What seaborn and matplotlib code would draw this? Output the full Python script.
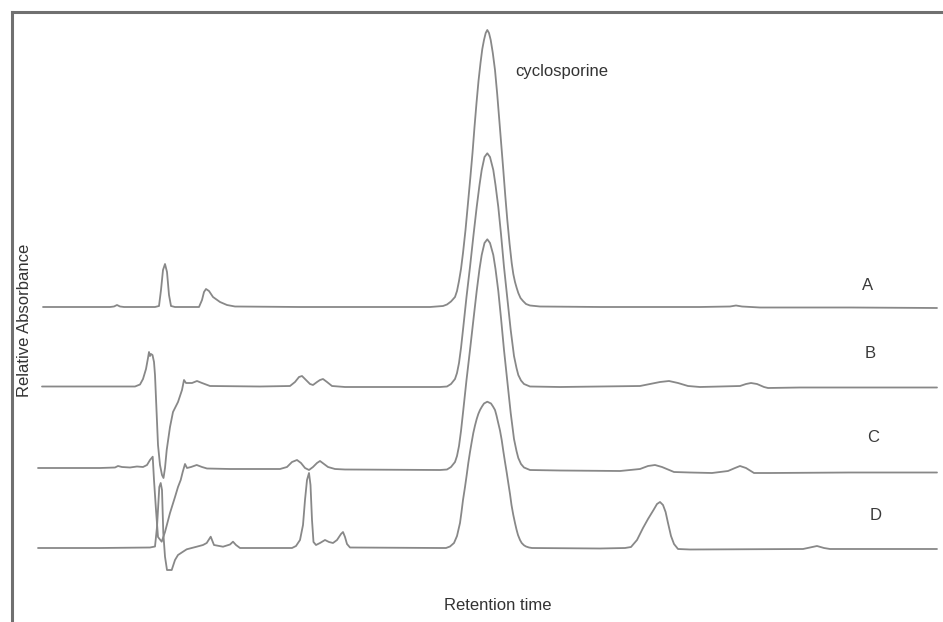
import matplotlib
matplotlib.use("Agg")
import matplotlib.pyplot as plt
import seaborn as sns
import pandas as pd

# =========================
# DATA (arbitrary units)
# each point: (retention time, absorbance above the trace baseline)
# =========================
TRACE_A = [
    (43, 0), (80, 0), (110, 0), (114, 0.5), (117, 2), (120, 0.5), (124, 0),
    (155, 0), (159, 1), (161, 17), (163, 37), (165, 43), (167, 35), (169, 12),
    (171, 1), (175, 0), (199, 0), (202, 7), (204, 15), (206, 18), (209, 16),
    (213, 10), (220, 5), (227, 2), (235, 0.5), (300, 0), (400, 0), (430, 0),
    (443, 1), (447, 2.5), (451, 5.5), (455, 10), (457, 16), (459, 26),
    (461, 38), (463, 54), (465.5, 77), (468, 104), (470.3, 129), (472.5, 154),
    (474.5, 180), (476.5, 204), (478.5, 226), (480.5, 244), (482.3, 258),
    (484, 267), (485.7, 274), (487.3, 277), (489, 274), (490.7, 267),
    (492.8, 254), (495, 237), (497.2, 213), (499.3, 187), (501.3, 162),
    (503.3, 137), (505.3, 111), (507.3, 87), (509.5, 64), (511.7, 44),
    (513.3, 33), (515, 25), (516.7, 19), (518.3, 14), (520.5, 9), (523, 6),
    (526, 3), (530, 1.5), (540, 0.5), (600, 0), (700, 0), (730, 0.5),
    (736, 1.5), (742, 0.5), (760, -0.5), (850, -0.5), (937, -1),
]

TRACE_B = [
    (42, 0.5), (100, 0.5), (135, 0.5), (140, 2.5), (143, 8), (146, 18),
    (148, 29), (149, 35), (150, 31), (151, 33), (152.5, 32), (154, 25),
    (155, 12), (156.5, -23), (158, -58), (160, -78), (162, -88), (163.5, -91),
    (165, -81), (166.7, -63), (170, -40), (173, -25), (178, -15), (182, -3),
    (184, 7), (186, 4), (192, 4), (197, 6), (202, 4), (210, 1), (260, 0.5),
    (290, 1), (295, 5), (299, 10), (302, 11), (306, 7), (310, 3), (313, 2),
    (317, 5), (320, 7), (323, 8), (327, 5), (332, 1), (345, 0), (440, 0),
    (447, 0.5), (451, 3), (455, 8), (457, 14), (459, 24), (461, 39),
    (463.3, 60), (466.5, 90), (470, 120), (473.5, 152), (476.7, 180),
    (479.5, 202), (481.7, 217), (484.5, 230), (487.3, 233.7), (490, 230),
    (493.3, 217), (495.5, 202), (498.3, 180), (501, 153), (504, 120),
    (507.5, 87), (510.7, 57), (514, 31), (516.5, 19), (518.3, 12), (521, 6.5),
    (524, 3), (530, 0.5), (560, 0), (640, 1), (650, 3), (660, 5), (669, 6),
    (678, 4), (688, 1), (700, 0), (740, 1), (746, 3), (751, 4), (757, 3),
    (764, 0), (768, -1), (800, -0.5), (937, -0.5),
]

TRACE_C = [
    (38, 1), (100, 1), (115, 1.5), (118, 3), (122, 2), (130, 1.5), (137, 2.5),
    (143, 2), (147, 4), (150, 9), (152.7, 12.3), (154, -11), (156, -41),
    (158, -68), (161.7, -72.7), (165, -63), (170, -44), (175, -28), (178, -18),
    (180.7, -11), (182.7, -3), (185, 5), (187, 1), (191, 2), (196.7, 4),
    (202, 2), (207, 0.5), (230, 0), (280, 0), (287, 2), (292, 7), (297, 9),
    (301, 6), (305, 1), (309, -1), (313, 2), (317, 6), (320, 8), (324, 5),
    (328, 2), (335, 0), (345, -0.5), (440, -1), (447, -0.5), (451, 2),
    (455, 7), (457, 13), (459, 23), (461, 38), (463.3, 59), (466.5, 89),
    (470, 119), (473.5, 150), (476.7, 178), (479.5, 200), (481.7, 214),
    (484.5, 226), (487.3, 229.7), (490, 226), (493.3, 214), (495.5, 200),
    (498.3, 178), (501, 151), (504, 119), (507.5, 86), (510.7, 56), (514, 30),
    (516.5, 18), (518.3, 11), (521, 5), (524, 1.5), (530, -1), (560, -1.5),
    (620, -2), (640, 0), (648, 3), (655, 4), (662, 2), (674, -3), (690, -3.5),
    (712, -4), (728, -2), (735, 1), (740, 3), (746, 1), (754, -4), (770, -4),
    (850, -3.5), (937, -3.5),
]

TRACE_D = [
    (38, 0), (100, 0), (150, 0.5), (155, 1.5), (157, 21), (159.3, 61),
    (160.7, 65), (162, 58), (163.3, 15), (165, -8.7), (167, -22),
    (171.7, -22), (175, -12), (178, -7), (183, -3.7), (186.7, -1.3),
    (196.7, 1.3), (203, 3), (206.7, 5), (210.7, 11.3), (214, 3), (223, 1.3),
    (230, 3.5), (233, 6.3), (236, 3), (240, 0), (260, 0), (292, 0), (296, 2),
    (300, 8), (303, 23), (305, 48), (307, 68), (309, 75), (310.5, 63),
    (312, 28), (313.5, 6), (316, 3), (320, 5), (325, 8), (329, 6), (333, 5),
    (337, 8), (341, 14), (343, 16), (345, 11), (347, 4), (350, 0.5), (440, 0),
    (446, 0), (450, 1.5), (454, 5), (457, 12), (460, 25), (461.5, 36),
    (463, 48), (465, 61), (466.7, 73), (468.3, 85), (470, 96), (471.7, 106),
    (473.3, 115), (475, 122.5), (476.7, 129), (478.3, 134), (480, 138),
    (482, 141.5), (484, 144.5), (487.3, 146.3), (491, 144.5), (493, 141.5),
    (495, 138), (496.5, 132.5), (498, 126), (500, 117.5), (501.7, 108),
    (503.3, 97), (505, 86), (506.7, 75.5), (508.3, 65), (510, 54), (511.5, 43),
    (513.2, 33.5), (515, 25), (516.5, 18.5), (518, 13), (520, 8), (521.7, 5),
    (524, 2.7), (526, 1.5), (529, 0.5), (532, 0), (600, -0.5), (625, 0),
    (631, 1), (637, 8), (643, 20), (648, 29), (653.5, 38), (657, 44),
    (660, 46), (663, 43), (665.6, 36), (668, 25), (671, 12), (674, 4),
    (678, -1), (690, -1.5), (803, -1), (810, 0.5), (817, 2), (824, 0),
    (830, -1), (937, -1),
]

SAMPLES = ["A", "B", "C", "D"]
TRACES = [TRACE_A, TRACE_B, TRACE_C, TRACE_D]
OFFSETS = [315, 235, 153, 74]   # vertical stacking of the chromatograms

# =========================
# PLOT
# =========================
sns.set_theme(style="white")
plt.rcParams['font.family'] = ['Liberation Sans', 'DejaVu Sans']

fig = plt.figure(figsize=(9.43, 6.22), dpi=100)
ax = fig.add_axes([12 / 943, -10 / 622, 941 / 943, 620 / 622])

line_color = '#888888'
for name, trace, off in zip(SAMPLES, TRACES, OFFSETS):
    df = pd.DataFrame(trace, columns=["time", "abs"])
    df["abs"] = df["abs"] + off
    sns.lineplot(data=df, x="time", y="abs", sort=False, estimator=None,
                 color=line_color, linewidth=1.3, ax=ax)

ax.set_xlim(12, 953)
ax.set_ylim(-10, 610)
ax.set_xticks([])
ax.set_yticks([])
ax.set_xlabel('')
ax.set_ylabel('')

for side in ['right', 'bottom']:
    ax.spines[side].set_visible(False)
for side in ['left', 'top']:
    ax.spines[side].set_color('#707070')
    ax.spines[side].set_linewidth(2.2)

# sample labels
label_x = [868, 870.5, 873, 876]
label_dy = [22, 33.5, 32, 33]
for name, lx, off, dy in zip(SAMPLES, label_x, OFFSETS, label_dy):
    ax.text(lx, off + dy, name, ha='center', va='center', fontsize=12, color='#3a3a3a')

ax.text(515, 550.5, 'cyclosporine', ha='left', va='center', fontsize=12, color='#333333')
ax.text(498, 17, 'Retention time', ha='center', va='center', fontsize=12, color='#333333')
ax.text(25, 302, 'Relative Absorbance', ha='center', va='center', rotation=90,
        fontsize=12, color='#333333')

fig.savefig("out.png", dpi=100)
plt.close()
